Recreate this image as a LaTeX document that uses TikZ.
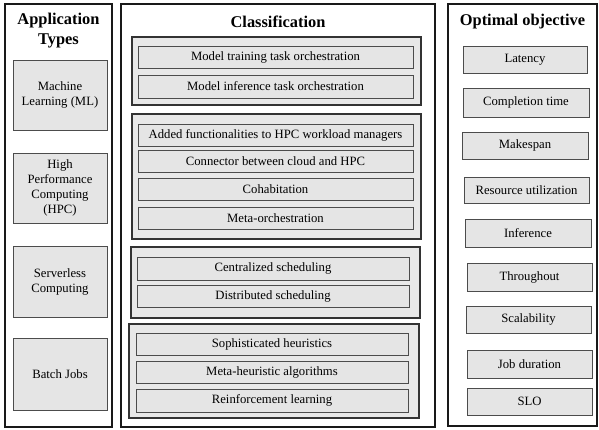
\documentclass[tikz,border=0pt]{standalone}
\usepackage{fontspec}
\setmainfont{Liberation Serif}
\newfontfamily\timesfam{Liberation Serif}
\begin{document}
\begin{tikzpicture}[x=1pt,y=-1pt,
  panel/.style={draw=black!90, line width=1.3pt, fill=white, inner sep=0pt},
  group/.style={draw=black!80, line width=1.2pt, fill=gray!18, inner sep=0pt},
  item/.style={draw=black!70, line width=0.8pt, fill=gray!20, inner sep=0pt,
    font=\timesfam\fontsize{12.7}{15}\selectfont, align=center},
  heading/.style={font=\timesfam\fontsize{16.4}{20}\selectfont\bfseries, align=center, inner sep=0pt}]
\useasboundingbox (0,0) rectangle (599,429);

% three columns
\node[panel, minimum width=107pt, minimum height=423pt] (apppanel) at (58.5,215.5) {};
\node[panel, minimum width=314pt, minimum height=423pt] (classpanel) at (278,215.5) {};
\node[panel, minimum width=149pt, minimum height=422pt] (objpanel) at (522.5,215) {};

% headings
\node[heading] (apphead) at (58.5,31) {Application\\Types};
\node[heading] (classhead) at (278,21.5) {Classification};
\node[heading] (objhead) at (522.5,21.5) {Optimal objective};

% application types
\node[item, minimum width=94pt, minimum height=70pt] (ml) at (60,95) {Machine\\Learning (ML)};
\node[item, minimum width=94pt, minimum height=70pt] (hpc) at (60,188) {High\\Performance\\Computing\\(HPC)};
\node[item, minimum width=94pt, minimum height=71pt] (svl) at (60,281.5) {Serverless\\Computing};
\node[item, minimum width=94pt, minimum height=72pt] (batch) at (60,374) {Batch Jobs};

% classification groups
\node[group, minimum width=289pt, minimum height=68pt] (gml) at (276.5,71) {};
\node[item, minimum width=275pt, minimum height=22pt] (train) at (275.5,57) {Model training task orchestration};
\node[item, minimum width=275pt, minimum height=23pt] (infer) at (275.5,86.5) {Model inference task orchestration};

\node[group, minimum width=289pt, minimum height=125pt] (ghpc) at (276.5,176.5) {};
\node[item, minimum width=275pt, minimum height=22pt] (added) at (275.5,135) {Added functionalities to HPC workload managers};
\node[item, minimum width=275pt, minimum height=22pt] (conn) at (275.5,161) {Connector between cloud and HPC};
\node[item, minimum width=275pt, minimum height=22pt] (cohab) at (275.5,189.5) {Cohabitation};
\node[item, minimum width=275pt, minimum height=22pt] (meta) at (275.5,218.5) {Meta-orchestration};

\node[group, minimum width=289pt, minimum height=71pt] (gsched) at (275.5,282.5) {};
\node[item, minimum width=272pt, minimum height=23pt] (central) at (273,268.5) {Centralized scheduling};
\node[item, minimum width=272pt, minimum height=22pt] (distrib) at (273,296) {Distributed scheduling};

\node[group, minimum width=290pt, minimum height=94pt] (galgo) at (274,371) {};
\node[item, minimum width=272pt, minimum height=22pt] (soph) at (272,344) {Sophisticated heuristics};
\node[item, minimum width=272pt, minimum height=22pt] (metah) at (272,372) {Meta-heuristic algorithms};
\node[item, minimum width=272pt, minimum height=23pt] (rl) at (272,400.5) {Reinforcement learning};

% optimal objectives
\node[item, minimum width=124pt, minimum height=27pt] (lat) at (525,59.5) {Latency};
\node[item, minimum width=126pt, minimum height=29pt] (comp) at (526,102.5) {Completion time};
\node[item, minimum width=126pt, minimum height=27pt] (mksp) at (525,145.5) {Makespan};
\node[item, minimum width=125pt, minimum height=26pt] (res) at (526.5,190) {Resource utilization};
\node[item, minimum width=126pt, minimum height=28pt] (inf) at (528,233) {Inference};
\node[item, minimum width=125pt, minimum height=28pt] (thr) at (529.5,277) {Throughout};
\node[item, minimum width=125pt, minimum height=27pt] (scal) at (528.5,319.5) {Scalability};
\node[item, minimum width=125pt, minimum height=28pt] (job) at (529.5,364) {Job duration};
\node[item, minimum width=125pt, minimum height=27pt] (slo) at (529.5,401.5) {SLO};
\end{tikzpicture}
\end{document}
